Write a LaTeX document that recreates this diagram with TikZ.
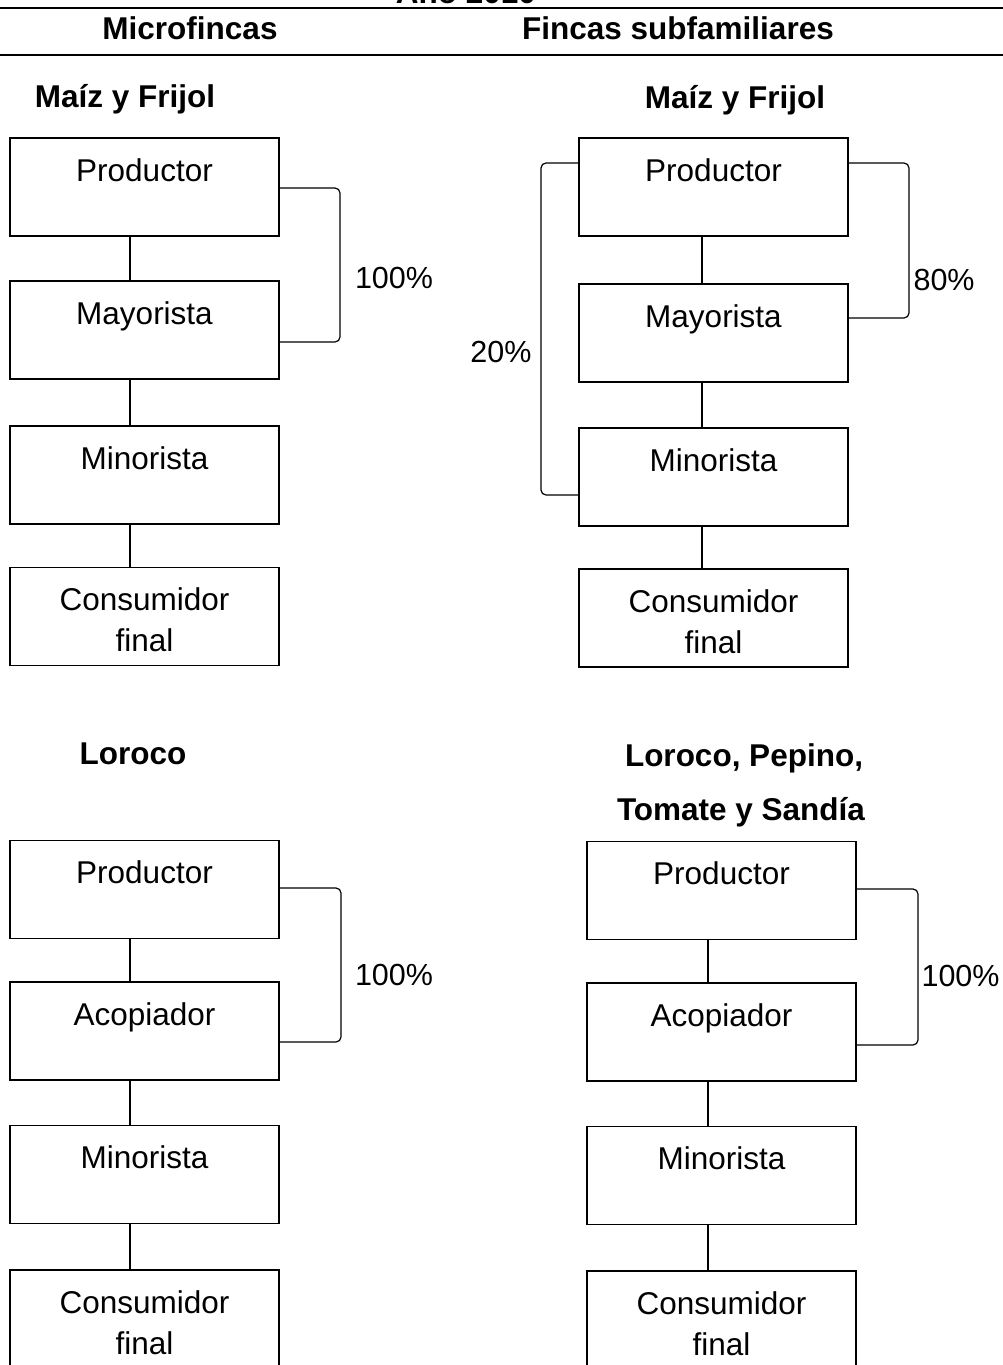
\documentclass[tikz,border=0pt]{standalone}
\usepackage{fontspec}
\setmainfont{Liberation Sans}
\usetikzlibrary{calc}
\newcommand\boxstrut{\rule[-4pt]{0pt}{37pt}}
\tikzset{
  eslabon/.style={draw, line width=1.3pt, minimum width=269pt, minimum height=98pt, inner sep=0pt, align=center, font=\fontsize{31.5}{41}\selectfont},
  titulo/.style={font=\fontsize{31.5}{38}\selectfont\bfseries},
  pct/.style={font=\fontsize{30.5}{36}\selectfont},
  enlace/.style={line width=1.2pt},
  rama/.style={line width=1.2pt, rounded corners=5pt}
}

\begin{document}
\begin{tikzpicture}[x=1pt,y=-1pt]
		%%%%% START %%%%%
		\useasboundingbox (0,0) rectangle (1003,1365);
		\clip (0,0) rectangle (1003,1365);
		
		\node[titulo, anchor=base] (anio) at (466,4) {Año 2010};
		\draw[line width=2pt] (0,8) -- (1003,8);
		\node[titulo] (micro) at (190,28) {Microfincas};
		\node[titulo] (subfam) at (678,28) {Fincas subfamiliares};
		\draw[line width=2pt] (0,55) -- (1003,55);
		
		% microfincas: maiz y frijol
		\node[titulo] (mfA) at (125,99) {Maíz y Frijol};
		\node[eslabon] (mfA1) at (144.5,187) {\boxstrut Productor\\\boxstrut};
		\node[eslabon] (mfA2) at (144.5,330) {\boxstrut Mayorista\\\boxstrut};
		\node[eslabon] (mfA3) at (144.5,475) {\boxstrut Minorista\\\boxstrut};
		\node[eslabon] (mfA4) at (144.5,616.5) {\boxstrut Consumidor\\\boxstrut final};
		\foreach \a/\b in {mfA1/mfA2, mfA2/mfA3, mfA3/mfA4}
			\draw[enlace] (\a.south -| 130,0) -- (\b.north -| 130,0);
		\draw[rama] ([yshift=-1pt]mfA1.east) -- (340,188) -- (340,342) -- ([yshift=-12pt]mfA2.east);
		\node[pct] (mfAp) at (394,278) {100\%};
		
		% fincas subfamiliares: maiz y frijol
		\node[titulo] (sfA) at (735,100) {Maíz y Frijol};
		\node[eslabon] (sfA1) at (713.5,187) {\boxstrut Productor\\\boxstrut};
		\node[eslabon] (sfA2) at (713.5,333) {\boxstrut Mayorista\\\boxstrut};
		\node[eslabon] (sfA3) at (713.5,477) {\boxstrut Minorista\\\boxstrut};
		\node[eslabon] (sfA4) at (713.5,618) {\boxstrut Consumidor\\\boxstrut final};
		\foreach \a/\b in {sfA1/sfA2, sfA2/sfA3, sfA3/sfA4}
			\draw[enlace] (\a.south -| 702,0) -- (\b.north -| 702,0);
		\draw[rama] ([yshift=24pt]sfA1.east) -- (909,163) -- (909,318) -- ([yshift=15pt]sfA2.east);
		\node[pct, anchor=west] (sfAp) at (910,280) {80\%};
		\draw[rama] ([yshift=24pt]sfA1.west) -- (541,163) -- (541,495) -- ([yshift=-18pt]sfA3.west);
		\node[pct] (sfAq) at (501,352) {20\%};
		
		% microfincas: loroco
		\node[titulo] (mfB) at (133,754) {Loroco};
		\node[eslabon] (mfB1) at (144.5,889.5) {\boxstrut Productor\\\boxstrut};
		\node[eslabon] (mfB2) at (144.5,1031) {\boxstrut Acopiador\\\boxstrut};
		\node[eslabon] (mfB3) at (144.5,1174.5) {\boxstrut Minorista\\\boxstrut};
		\node[eslabon] (mfB4) at (144.5,1319) {\boxstrut Consumidor\\\boxstrut final};
		\foreach \a/\b in {mfB1/mfB2, mfB2/mfB3, mfB3/mfB4}
			\draw[enlace] (\a.south -| 130,0) -- (\b.north -| 130,0);
		\draw[rama] ([yshift=1.5pt]mfB1.east) -- (341,888) -- (341,1042) -- ([yshift=-11pt]mfB2.east);
		\node[pct] (mfBp) at (394,975) {100\%};
		
		% fincas subfamiliares: loroco, pepino, tomate y sandia
		\node[titulo] (sfB) at (744,758) {Loroco, Pepino,};
		\node[titulo] (sfBb) at (741,812) {Tomate y Sandía};
		\node[eslabon] (sfB1) at (721.5,890.5) {\boxstrut Productor\\\boxstrut};
		\node[eslabon] (sfB2) at (721.5,1032) {\boxstrut Acopiador\\\boxstrut};
		\node[eslabon] (sfB3) at (721.5,1175.5) {\boxstrut Minorista\\\boxstrut};
		\node[eslabon] (sfB4) at (721.5,1320) {\boxstrut Consumidor\\\boxstrut final};
		\foreach \a/\b in {sfB1/sfB2, sfB2/sfB3, sfB3/sfB4}
			\draw[enlace] (\a.south -| 708,0) -- (\b.north -| 708,0);
		\draw[rama] ([yshift=1.5pt]sfB1.east) -- (918,889) -- (918,1045) -- ([yshift=-13pt]sfB2.east);
		\node[pct, anchor=west] (sfBp) at (918,976) {100\%};
		
		%%%%% END %%%%%
\end{tikzpicture}
\end{document}
